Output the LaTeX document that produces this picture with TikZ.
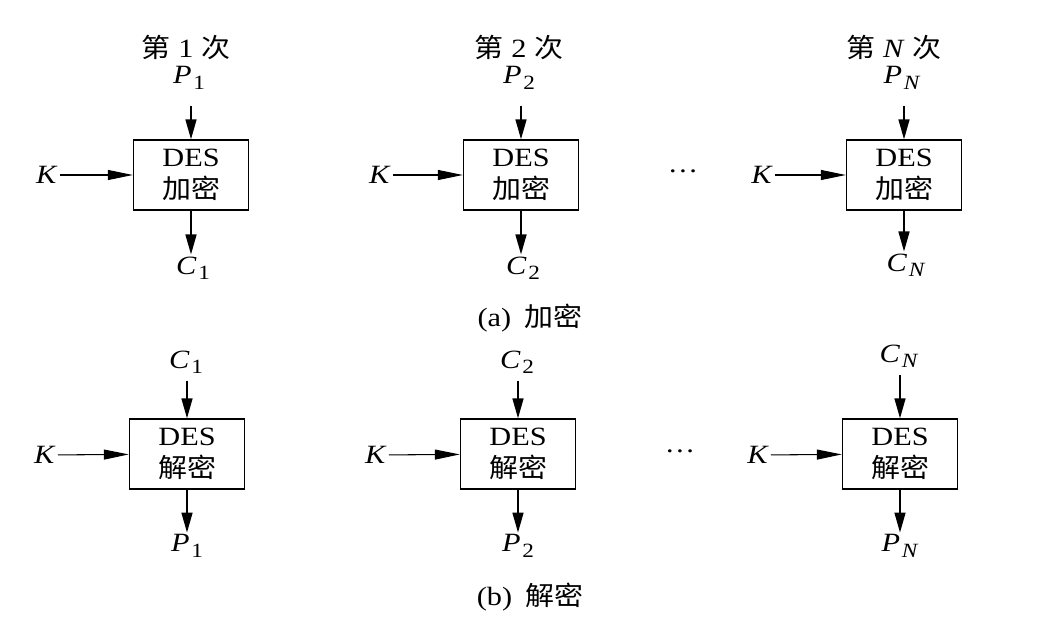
\documentclass[tikz,border=0pt]{standalone}
\usepackage{fontspec}
\setmainfont{Liberation Serif}[FakeStretch=1.15]
\newfontfamily\cjk{Noto Sans CJK SC}[FakeStretch=1.1]
\usepackage{tikz}
\usetikzlibrary{arrows.meta, positioning}

\newcommand{\lab}[2]{\textit{#1}\kern1pt\raisebox{-0.45ex}{\fontsize{11.5}{12}\selectfont #2}}

\begin{document}
\begin{tikzpicture}[
    x=0.02cm, y=-0.02cm,
    every node/.style={font=\fontsize{15}{17}\selectfont},
    des/.style={rectangle, draw, line width=0.8pt, minimum width=2.3cm, minimum height=1.4cm, align=center, inner sep=0pt},
    lbl/.style={inner sep=1pt},
    arr/.style={-{Triangle[length=4mm, width=2.2mm]}, line width=0.9pt},
    karr/.style={-{Triangle[length=5mm, width=2mm]}, line width=0.6pt}
]
    \useasboundingbox (0,0) rectangle (1044,621);

    % (a) 加密
    \node[des] (enc1) at (191,175) {DES\\[1pt]{\cjk 加密}};
    \node[des] (enc2) at (521,175) {DES\\[1pt]{\cjk 加密}};
    \node[des] (enc3) at (904,175) {DES\\[1pt]{\cjk 加密}};

    \node[lbl] (t1) at (186,47) {{\cjk 第}\ 1\ {\cjk 次}};
    \node[lbl] (t2) at (519,47) {{\cjk 第}\ 2\ {\cjk 次}};
    \node[lbl] (t3) at (894,47) {{\cjk 第}\ \textit{N}\ {\cjk 次}};

    \node[lbl] (ep1) at (189,78) {\lab{P}{1}};
    \node[lbl] (ep2) at (519,78) {\lab{P}{2}};
    \node[lbl] (ep3) at (902,78) {\lab{P}{\textit{N}}};

    \node[lbl] (ec1) at (193,268) {\lab{C}{1}};
    \node[lbl] (ec2) at (523,268) {\lab{C}{2}};
    \node[lbl] (ec3) at (906,265) {\lab{C}{\textit{N}}};

    \node[lbl] (ek1) at (47,175) {\textit{K}};
    \node[lbl] (ek2) at (380,175) {\textit{K}};
    \node[lbl] (ek3) at (762,175) {\textit{K}};

    \node[lbl] (edots) at (683,171) {\ldots};
    \node[lbl] (capa) at (530,318) {(a)\enspace{\cjk 加密}};

    \draw[arr, shorten <=3mm] (ep1.south -| enc1) -- (enc1);
    \draw[arr, shorten <=3mm] (ep2.south -| enc2) -- (enc2);
    \draw[arr, shorten <=3mm] (ep3.south -| enc3) -- (enc3);
    \draw[arr] (enc1) -- (ec1.north -| enc1);
    \draw[arr] (enc2) -- (ec2.north -| enc2);
    \draw[arr] (enc3) -- (ec3.north -| enc3);
    \draw[karr] (ek1) -- (enc1);
    \draw[karr] (ek2) -- (enc2);
    \draw[karr] (ek3) -- (enc3);

    % (b) 解密
    \node[des] (dec1) at (187,454) {DES\\[1pt]{\cjk 解密}};
    \node[des] (dec2) at (518,454) {DES\\[1pt]{\cjk 解密}};
    \node[des] (dec3) at (900,454) {DES\\[1pt]{\cjk 解密}};

    \node[lbl] (dc1) at (186,362) {\lab{C}{1}};
    \node[lbl] (dc2) at (517,362) {\lab{C}{2}};
    \node[lbl] (dc3) at (899,356) {\lab{C}{\textit{N}}};

    \node[lbl] (dp1) at (187,546) {\lab{P}{1}};
    \node[lbl] (dp2) at (518,546) {\lab{P}{2}};
    \node[lbl] (dp3) at (900,546) {\lab{P}{\textit{N}}};

    \node[lbl] (dk1) at (45,455) {\textit{K}};
    \node[lbl] (dk2) at (376,455) {\textit{K}};
    \node[lbl] (dk3) at (758,455) {\textit{K}};

    \node[lbl] (ddots) at (680,451) {\ldots};
    \node[lbl] (capb) at (530,597) {(b)\enspace{\cjk 解密}};

    \draw[arr, shorten <=1mm] (dc1.south -| dec1) -- (dec1);
    \draw[arr, shorten <=1mm] (dc2.south -| dec2) -- (dec2);
    \draw[arr, shorten <=1mm] (dc3.south -| dec3) -- (dec3);
    \draw[arr] (dec1) -- (dp1.north -| dec1);
    \draw[arr] (dec2) -- (dp2.north -| dec2);
    \draw[arr] (dec3) -- (dp3.north -| dec3);
    \draw[karr] (dk1) -- (dec1);
    \draw[karr] (dk2) -- (dec2);
    \draw[karr] (dk3) -- (dec3);

\end{tikzpicture}
\end{document}
